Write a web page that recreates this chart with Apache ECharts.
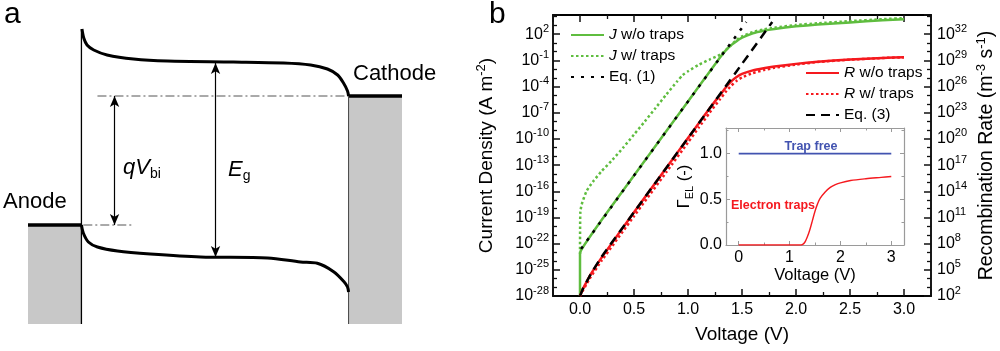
<!DOCTYPE html>
<html>
<head>
<meta charset="utf-8">
<script src="https://cdn.jsdelivr.net/npm/echarts@6/dist/echarts.min.js"></script>
<style>
html,body{margin:0;padding:0;background:#fff;}
#c{width:1000px;height:351px;}
</style>
</head>
<body>
<div id="c"></div>
<script>
// ===== Panel a : band diagram (position normalised across the layer, energy in eV) =====
const lumoPos = [0.002, 0.009, 0.021, 0.046, 0.096, 0.195, 0.322, 0.569, 0.757, 0.858, 0.921, 0.959, 0.981, 0.996, 1.0];
const lumoE   = [2.95, 2.857, 2.79, 2.74, 2.69, 2.65, 2.63, 2.62, 2.61, 2.59, 2.55, 2.49, 2.41, 2.33, 2.28];
const homoPos = [0.0, 0.007, 0.026, 0.060, 0.135, 0.258, 0.446, 0.697, 0.820, 0.883, 0.944, 0.983, 0.996, 1.0];
const homoE   = [0.99, 0.91, 0.82, 0.77, 0.73, 0.70, 0.67, 0.66, 0.62, 0.607, 0.523, 0.423, 0.37, 0.32];
const anodeLevel = 0.99;      // anode Fermi level
const cathodeLevel = 2.28;    // cathode Fermi level
const anodeX = [-0.2, 0];
const cathodeX = [1, 1.2];
const fermiTopX = [0.06, 1.0];
const fermiBottomX = [0.007, 0.195];
const vbiArrowX = 0.124;
const egArrowX = 0.502;
const egArrowE = [0.67, 2.61];
const layerTopE = 2.95;

// ===== Panel b : J and R vs voltage (log10 values) =====
const jNoTrapsV   = [0, 0, 0.012, 0.2, 0.5, 0.8, 1.0, 1.2, 1.3, 1.35, 1.4, 1.45, 1.5, 1.6, 1.7, 1.8, 2.0, 2.2, 2.5, 2.8, 3.0];
const jNoTrapsLog = [-28, -23.2, -22.7, -19.3, -14.2, -9.1, -5.7, -2.3, -0.6, 0.15, 0.75, 1.2, 1.6, 2.1, 2.4, 2.6, 2.9, 3.1, 3.35, 3.6, 3.72];

const jTrapsV   = [0, 0.003, 0.016, 0.06, 0.12, 0.2, 0.3, 0.4, 0.5, 0.6, 0.7, 0.8, 0.9, 0.95, 1.0, 1.1, 1.2, 1.3, 1.4, 1.45, 1.5, 1.6, 1.7, 1.8, 2.0, 2.2, 2.5, 2.8, 3.0];
const jTrapsLog = [-23.2, -18.4, -17.5, -16.0, -14.9, -13.7, -12.4, -11.0, -9.5, -8.0, -6.45, -4.9, -3.4, -2.7, -2.25, -1.5, -0.9, -0.32, 0.75, 1.35, 1.75, 2.25, 2.55, 2.75, 3.05, 3.25, 3.5, 3.72, 3.85];

const eq1V   = [0.01, 0.5, 1.0, 1.54];
const eq1Log = [-22.6, -14.2, -5.7, 3.4];

const rV          = [0, 0.01, 0.03, 0.06, 0.1, 0.2, 0.5, 0.8, 1.0, 1.1, 1.2, 1.3, 1.35, 1.4, 1.45, 1.5, 1.6, 1.7, 1.8, 2.0, 2.2, 2.5, 2.8, 3.0];
const rNoTrapsLog = [2, 2.3, 2.9, 3.6, 4.5, 6.4, 11.6, 16.7, 20.1, 21.8, 23.5, 25.1, 25.9, 26.6, 27.1, 27.45, 27.85, 28.1, 28.3, 28.6, 28.85, 29.1, 29.28, 29.36];
const rTrapsLog   = [2, 2.2, 2.7, 3.35, 4.2, 6.05, 11.15, 16.2, 19.6, 21.3, 23.0, 24.6, 25.4, 26.1, 26.65, 27.05, 27.55, 27.88, 28.15, 28.52, 28.81, 29.08, 29.27, 29.35];

const eq3V   = [0, 0.01, 0.03, 0.06, 0.1, 0.2, 0.5, 1.0, 1.5, 1.78];
const eq3Log = [2, 2.3, 2.9, 3.6, 4.5, 6.5, 11.6, 20.1, 28.6, 33.4];

// ===== Inset : Gamma_EL vs voltage =====
const insetV      = [0, 0.5, 1.0, 1.2, 1.25, 1.3, 1.35, 1.4, 1.45, 1.5, 1.55, 1.6, 1.7, 1.8, 1.9, 2.0, 2.2, 2.5, 2.8, 3.0];
const gammaTraps  = [0, 0, 0, 0, 0.005, 0.03, 0.09, 0.17, 0.27, 0.37, 0.45, 0.51, 0.58, 0.63, 0.66, 0.68, 0.705, 0.725, 0.74, 0.75];
const trapFreeV   = [0, 1, 2, 3];
const gammaFree   = [1, 1, 1, 1];

// ---------------------------------------------------------------
const FONT = '"Liberation Sans", Arial, Helvetica, sans-serif';
const GREEN = '#5fbd3f';
const RED = '#f5191e';
const BLUE = '#4253b0';
const pairs = (xs, ys) => xs.map((x, i) => [x, ys[i]]);

const chart = echarts.init(document.getElementById('c'), null, {renderer: 'canvas', width: 1000, height: 351});

function powFmt(offset) {
  return function (v) {
    const k = Math.round(v);
    if (Math.abs(v - k) > 1e-6 || ((k - offset) % 3 + 3) % 3 !== 0) return '';
    return '10{sup|' + k + '}';
  };
}
const supRich = () => ({sup: {fontSize: 11, lineHeight: 11, verticalAlign: 'top', fontFamily: FONT, color: '#000'}});

const mainAxisLine = () => ({show: true, onZero: false, lineStyle: {color: '#000', width: 1.8}});
const mainTick = () => ({show: true, inside: true, length: 7, lineStyle: {color: '#111', width: 1.5}});
const mainMinor = (n) => ({show: true, splitNumber: n, length: 4, lineStyle: {color: '#111', width: 1.3}});

const insetLine = () => ({show: true, onZero: false, lineStyle: {color: '#9a9a9a', width: 1.2}});
const insetTick = () => ({show: true, inside: true, length: 4, lineStyle: {color: '#9a9a9a', width: 1}});
const insetMinor = () => ({show: true, splitNumber: 2, length: 2.5, lineStyle: {color: '#9a9a9a', width: 1}});

const lineSeries = (o) => Object.assign({type: 'line', symbol: 'none', silent: true, animation: false}, o);

const legendBase = () => ({orient: 'vertical', itemWidth: 33, itemHeight: 14, itemGap: 5, padding: 0,
  selectedMode: false, itemStyle: {opacity: 0, color: 'rgba(0,0,0,0)', borderWidth: 0},
  formatter: n => n.replace(/^(J|R) /, '{i|$1} '),
  textStyle: {fontSize: 15.5, color: '#000', fontFamily: FONT,
    rich: {i: {fontStyle: 'italic', fontSize: 15.5, fontFamily: FONT, color: '#000'}}}});

const option = {
  animation: false,
  backgroundColor: '#fff',
  textStyle: {fontFamily: FONT},
  grid: [
    {left: 28, top: 24, width: 374, height: 300},
    {left: 553, top: 15, width: 380, height: 281},
    {left: 726, top: 128, width: 178, height: 117, show: true, backgroundColor: '#fff', borderWidth: 0}
  ],
  xAxis: [
    {type: 'value', gridIndex: 0, min: -0.2, max: 1.2, show: false, splitLine: {show: false}},
    {type: 'value', gridIndex: 1, position: 'bottom', min: -0.25, max: 3.25, splitNumber: 7,
      axisLine: mainAxisLine(), axisTick: mainTick(), minorTick: mainMinor(2), splitLine: {show: false},
      axisLabel: {margin: 6, fontSize: 16, color: '#000', fontFamily: FONT,
        formatter: v => (Math.abs(v * 2 - Math.round(v * 2)) < 1e-6 ? v.toFixed(1) : '')},
      name: 'Voltage (V)', nameLocation: 'middle', nameGap: 29,
      nameTextStyle: {fontSize: 19, color: '#000', fontFamily: FONT}},
    {type: 'value', gridIndex: 1, position: 'top', min: -0.25, max: 3.25, splitNumber: 7,
      axisLine: mainAxisLine(), axisTick: mainTick(), minorTick: mainMinor(2), splitLine: {show: false},
      axisLabel: {show: false}},
    {type: 'value', gridIndex: 2, position: 'bottom', min: -0.25, max: 3.25, splitNumber: 4,
      axisLine: insetLine(), axisTick: insetTick(), minorTick: insetMinor(), splitLine: {show: false},
      axisLabel: {margin: 5, fontSize: 16, color: '#000', fontFamily: FONT,
        formatter: v => (Math.abs(v - Math.round(v)) < 1e-6 ? String(Math.round(v)) : '')},
      name: 'Voltage (V)', nameLocation: 'middle', nameGap: 20,
      nameTextStyle: {fontSize: 16.5, color: '#000', fontFamily: FONT}},
    {type: 'value', gridIndex: 2, position: 'top', min: -0.25, max: 3.25, splitNumber: 4,
      axisLine: insetLine(), axisTick: insetTick(), minorTick: insetMinor(), splitLine: {show: false},
      axisLabel: {show: false}}
  ],
  yAxis: [
    {type: 'value', gridIndex: 0, min: 0, max: 3.0, show: false, splitLine: {show: false}},
    {type: 'value', gridIndex: 1, position: 'left', min: -28, max: 4.2, interval: 3,
      axisLine: mainAxisLine(), axisTick: mainTick(), minorTick: mainMinor(3), splitLine: {show: false},
      axisLabel: {margin: 4, fontSize: 16, lineHeight: 22, color: '#000', fontFamily: FONT,
        formatter: powFmt(-28), rich: supRich()},
      name: 'Current Density (A m{sup|-2})', nameLocation: 'middle', nameGap: 54, nameRotate: 90,
      nameTextStyle: {fontSize: 19, lineHeight: 24, color: '#000', fontFamily: FONT,
        rich: {sup: {fontSize: 13, lineHeight: 13, verticalAlign: 'top', fontFamily: FONT, color: '#000'}}}},
    {type: 'value', gridIndex: 1, position: 'right', min: 2, max: 34.2, interval: 3,
      axisLine: mainAxisLine(), axisTick: mainTick(), minorTick: mainMinor(3), splitLine: {show: false},
      axisLabel: {margin: 6, fontSize: 16, lineHeight: 22, color: '#000', fontFamily: FONT,
        formatter: powFmt(2), rich: supRich()},
      name: 'Recombination Rate (m{sup|-3} s{sup|-1})', nameLocation: 'middle', nameGap: 44, nameRotate: 90,
      nameTextStyle: {fontSize: 19.5, lineHeight: 24, color: '#000', fontFamily: FONT,
        rich: {sup: {fontSize: 13, lineHeight: 13, verticalAlign: 'top', fontFamily: FONT, color: '#000'}}}},
    {type: 'value', gridIndex: 2, position: 'left', min: 0, max: 1.28, interval: 0.5,
      axisLine: insetLine(), axisTick: insetTick(), minorTick: insetMinor(), splitLine: {show: false},
      axisLabel: {margin: 4, fontSize: 16, color: '#000', fontFamily: FONT,
        formatter: v => (Math.abs(v * 2 - Math.round(v * 2)) < 1e-6 ? v.toFixed(1) : '')},
      name: '{g|Γ}{sub|EL} (-)', nameLocation: 'middle', nameGap: 30, nameRotate: 90,
      nameTextStyle: {fontSize: 16.5, lineHeight: 22, color: '#000', fontFamily: FONT,
        rich: {g: {fontSize: 16.5, fontFamily: FONT, color: '#000'},
               sub: {fontSize: 11, lineHeight: 11, verticalAlign: 'bottom', fontFamily: FONT, color: '#000'}}}},
    {type: 'value', gridIndex: 2, position: 'right', min: 0, max: 1.28, interval: 0.5,
      axisLine: insetLine(), axisTick: insetTick(), minorTick: insetMinor(), splitLine: {show: false},
      axisLabel: {show: false}}
  ],
  legend: [
    Object.assign({left: 570, top: 27, data: ['J w/o traps', 'J w/ traps', 'Eq. (1)']}, legendBase()),
    Object.assign({left: 805, top: 65, data: ['R w/o traps', 'R w/ traps', 'Eq. (3)']}, legendBase())
  ],
  series: [
    // ---- panel a ----
    lineSeries({xAxisIndex: 0, yAxisIndex: 0, data: pairs(anodeX, [anodeLevel, anodeLevel]),
      lineStyle: {color: '#000', width: 3.5}, areaStyle: {color: '#c8c8c8', opacity: 1}}),
    lineSeries({xAxisIndex: 0, yAxisIndex: 0, data: pairs(cathodeX, [cathodeLevel, cathodeLevel]),
      lineStyle: {color: '#000', width: 3.5}, areaStyle: {color: '#c8c8c8', opacity: 1}}),
    lineSeries({xAxisIndex: 0, yAxisIndex: 0, data: pairs([1, 1], [0, cathodeLevel]),
      lineStyle: {color: '#444', width: 1}}),
    lineSeries({xAxisIndex: 0, yAxisIndex: 0, data: pairs([0, 0], [0, layerTopE]),
      lineStyle: {color: '#000', width: 1.3},
      markLine: {silent: true, animation: false, symbol: ['arrow', 'arrow'], symbolSize: [7, 11],
        label: {show: false}, lineStyle: {color: '#000', width: 1.2, type: 'solid'},
        emphasis: {disabled: true},
        data: [
          [{coord: [vbiArrowX, anodeLevel]}, {coord: [vbiArrowX, cathodeLevel]}],
          [{coord: [egArrowX, egArrowE[0]]}, {coord: [egArrowX, egArrowE[1]]}]
        ]}}),
    lineSeries({xAxisIndex: 0, yAxisIndex: 0, data: pairs(fermiTopX, [cathodeLevel, cathodeLevel]),
      lineStyle: {color: '#555', width: 1, type: [9, 3, 2, 3]}}),
    lineSeries({xAxisIndex: 0, yAxisIndex: 0, data: pairs(fermiBottomX, [anodeLevel, anodeLevel]),
      lineStyle: {color: '#555', width: 1, type: [9, 3, 2, 3]}}),
    lineSeries({xAxisIndex: 0, yAxisIndex: 0, data: pairs(lumoPos, lumoE), smooth: 0.3, clip: false,
      lineStyle: {color: '#000', width: 3}}),
    lineSeries({xAxisIndex: 0, yAxisIndex: 0, data: pairs(homoPos, homoE), smooth: 0.3, clip: false,
      lineStyle: {color: '#000', width: 3}}),

    // ---- panel b ----
    lineSeries({name: 'J w/o traps', xAxisIndex: 1, yAxisIndex: 1, data: pairs(jNoTrapsV, jNoTrapsLog),
      smooth: 0.15, color: GREEN, lineStyle: {color: GREEN, width: 2.5}}),
    lineSeries({name: 'J w/ traps', xAxisIndex: 1, yAxisIndex: 1, data: pairs(jTrapsV, jTrapsLog),
      smooth: 0.2, color: GREEN, lineStyle: {color: GREEN, width: 2.5, type: [2.5, 2.5]}}),
    lineSeries({name: 'R w/o traps', xAxisIndex: 1, yAxisIndex: 2, data: pairs(rV, rNoTrapsLog),
      smooth: 0.15, color: RED, lineStyle: {color: RED, width: 2.5}}),
    lineSeries({name: 'R w/ traps', xAxisIndex: 1, yAxisIndex: 2, data: pairs(rV, rTrapsLog),
      smooth: 0.15, color: RED, lineStyle: {color: RED, width: 2.5, type: [2.5, 2.5]}}),
    lineSeries({name: 'Eq. (1)', xAxisIndex: 1, yAxisIndex: 1, data: pairs(eq1V, eq1Log),
      color: '#000', lineStyle: {color: '#000', width: 2.5, type: [3, 7]}}),
    lineSeries({name: 'Eq. (3)', xAxisIndex: 1, yAxisIndex: 2, data: pairs(eq3V, eq3Log),
      smooth: 0.15, color: '#000', lineStyle: {color: '#000', width: 2.5, type: [9, 6]}}),

    // ---- inset ----
    lineSeries({xAxisIndex: 3, yAxisIndex: 3, data: pairs(trapFreeV, gammaFree),
      lineStyle: {color: BLUE, width: 1.6}}),
    lineSeries({xAxisIndex: 3, yAxisIndex: 3, data: pairs(insetV, gammaTraps), smooth: 0.3,
      lineStyle: {color: RED, width: 1.4}})
  ],
  graphic: [
    {type: 'text', x: 4, y: 0, style: {text: 'a', font: '30px ' + FONT, fill: '#000', align: 'left', verticalAlign: 'top'}},
    {type: 'text', x: 489, y: 0, style: {text: 'b', font: '30px ' + FONT, fill: '#000', align: 'left', verticalAlign: 'top'}},
    {type: 'text', x: 3, y: 202, style: {text: 'Anode', font: '22px ' + FONT, fill: '#000', align: 'left', verticalAlign: 'middle'}},
    {type: 'text', x: 353, y: 74, style: {text: 'Cathode', font: '22px ' + FONT, fill: '#000', align: 'left', verticalAlign: 'middle'}},
    {type: 'text', x: 123, y: 168, style: {text: '{i|qV}{s|bi}', align: 'left', verticalAlign: 'middle', fill: '#000',
      font: '22px ' + FONT, lineHeight: 26,
      rich: {i: {fontStyle: 'italic', fontSize: 22, fontFamily: FONT, fill: '#000', lineHeight: 26},
             s: {fontSize: 14, fontFamily: FONT, fill: '#000', lineHeight: 14, verticalAlign: 'bottom'}}}},
    {type: 'text', x: 228, y: 170, style: {text: '{i|E}{s|g}', align: 'left', verticalAlign: 'middle', fill: '#000',
      font: '22px ' + FONT, lineHeight: 26,
      rich: {i: {fontStyle: 'italic', fontSize: 22, fontFamily: FONT, fill: '#000', lineHeight: 26},
             s: {fontSize: 14, fontFamily: FONT, fill: '#000', lineHeight: 14, verticalAlign: 'bottom'}}}},
    {type: 'text', x: 811, y: 147, z: 20, style: {text: 'Trap free', font: 'bold 12.5px ' + FONT, fill: BLUE, align: 'center', verticalAlign: 'middle'}},
    {type: 'text', x: 773, y: 206, z: 20, style: {text: 'Electron traps', font: 'bold 12.5px ' + FONT, fill: RED, align: 'center', verticalAlign: 'middle'}}
  ]
};
chart.setOption(option);
</script>
</body>
</html>
